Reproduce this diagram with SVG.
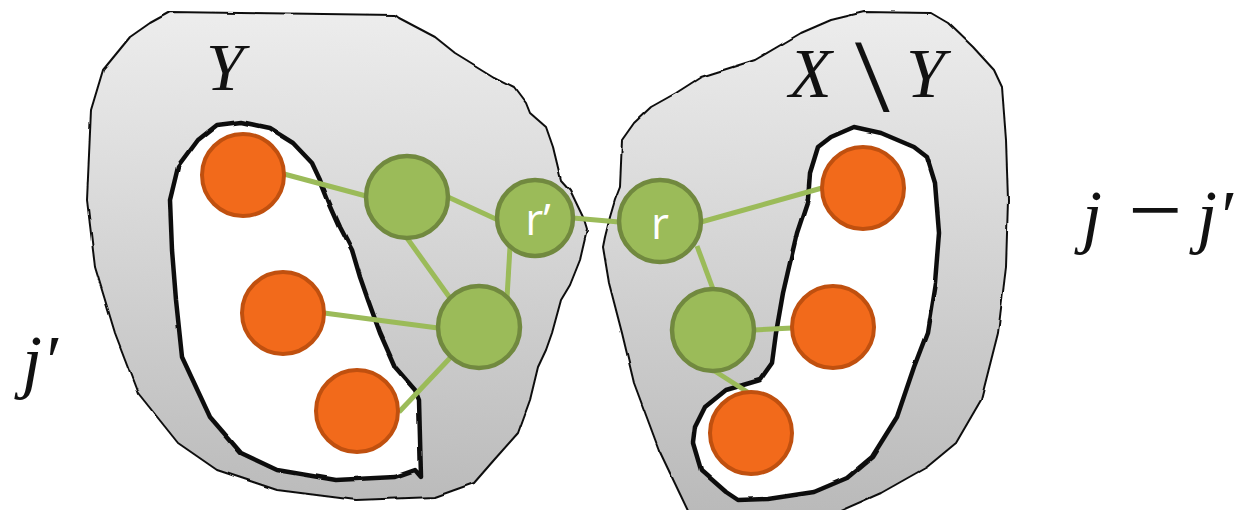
<svg xmlns="http://www.w3.org/2000/svg" width="1235" height="510" viewBox="0 0 1235 510">
  <defs>
    <linearGradient id="blobFill" x1="0" y1="0" x2="0" y2="510" gradientUnits="userSpaceOnUse">
      <stop offset="0" stop-color="#eeeeee"/>
      <stop offset="1" stop-color="#bababa"/>
    </linearGradient>
    <!-- slight hand-drawn wobble on the set outlines -->
    <filter id="rough" x="-5%" y="-5%" width="110%" height="110%">
      <feTurbulence type="fractalNoise" baseFrequency="0.035" numOctaves="2" seed="4" result="n"/>
      <feDisplacementMap in="SourceGraphic" in2="n" scale="2.5" xChannelSelector="R" yChannelSelector="G"/>
    </filter>
    <style>
      .blob { fill: url(#blobFill); stroke: #111; stroke-width: 2; stroke-linejoin: round; }
      .hole { fill: #fff; stroke: #111; stroke-width: 4.5; stroke-linejoin: round; }
      .edge { stroke: #9bbb59; stroke-width: 5; fill: none; }
      .leaf { fill: #f26a1b; stroke: #c0500f; stroke-width: 4; }
      .inner { fill: #9bbb59; stroke: #71893f; stroke-width: 4.5; }
      .math { font-family: "Liberation Serif", "DejaVu Serif", serif; font-style: italic; fill: #111; }
      .tag { font-family: "Open Sans", "Liberation Sans", sans-serif; fill: #fff; text-anchor: middle; }
    </style>
  </defs>

  <!-- set Y -->
  <g id="setY" filter="url(#rough)">
    <path class="blob" d="M170,12 L395,15 L399,18 L435,37 L455,53 L494,77 L514,87 L526,103 L530,113 L546,127 L553,147 L561,180 L570,190 L583,217 L587,230 L583,247 L580,260 L570,285 L561,300 L552,333 L546,350 L538,367 L530,400 L518,433 L494,460 L474,483 L435,497 L356,500 L277,490 L217,470 L178,443 L138,393 L115,333 L95,267 L87,200 L91,110 L103,70 L130,37 L150,23 Z"/>
    <path class="hole" d="M241,122 L269,128 L293,143 L312,163 L320,180 L328,200 L340,227 L352,250 L360,277 L368,300 L380,333 L395,367 L415,390 L419,400 L421,477 L415,470 L395,477 L336,480 L277,470 L241,453 L210,417 L182,357 L176,300 L172,250 L170,200 L178,167 L198,140 L217,125 Z"/>
  </g>

  <!-- set X \ Y -->
  <g id="setXminusY" filter="url(#rough)">
    <path class="blob" d="M864,12 L931,13 L948,23 L973,47 L994,70 L1002,87 L1006,140 L1008,200 L1006,267 L998,333 L981,400 L956,443 L927,467 L881,493 L831,515 L690,515 L659,450 L634,383 L622,333 L609,283 L603,247 L605,237 L610,217 L615,200 L620,187 L622,140 L634,123 L651,107 L676,93 L701,77 L755,60 L801,33 L831,20 Z"/>
    <path class="hole" d="M854,127 L881,133 L914,147 L927,157 L935,183 L939,233 L935,283 L927,333 L914,367 L897,417 L872,457 L847,478 L814,492 L768,499 L738,500 L726,492 L701,470 L693,443 L695,427 L705,407 L726,390 L760,380 L772,363 L776,333 L783,293 L789,267 L797,233 L808,200 L810,173 L818,147 L831,137 Z"/>
  </g>

  <!-- connectors -->
  <g id="connectors">
    <line class="edge" x1="284" y1="174" x2="366" y2="196"/>
    <line class="edge" x1="448" y1="197" x2="498" y2="220"/>
    <line class="edge" x1="407" y1="238" x2="450" y2="298"/>
    <line class="edge" x1="510" y1="247" x2="507" y2="298"/>
    <line class="edge" x1="324" y1="313" x2="438" y2="328"/>
    <line class="edge" x1="450" y1="358" x2="399" y2="412"/>
    <line class="edge" x1="573" y1="218" x2="619" y2="222"/>
    <line class="edge" x1="701" y1="222" x2="822" y2="188"/>
    <line class="edge" x1="697" y1="246" x2="713" y2="289"/>
    <line class="edge" x1="754" y1="330" x2="792" y2="328"/>
    <line class="edge" x1="713" y1="370" x2="749" y2="393"/>
  </g>

  <!-- leaves in Y -->
  <g id="leafY1"><circle class="leaf" cx="243" cy="175" r="41"/></g>
  <g id="leafY2"><circle class="leaf" cx="283" cy="313" r="41"/></g>
  <g id="leafY3"><circle class="leaf" cx="357" cy="411" r="41"/></g>

  <!-- leaves in X \ Y -->
  <g id="leafX1"><circle class="leaf" cx="863" cy="188" r="41"/></g>
  <g id="leafX2"><circle class="leaf" cx="833" cy="327" r="41"/></g>
  <g id="leafX3"><circle class="leaf" cx="751" cy="433" r="41"/></g>

  <!-- inner nodes -->
  <g id="innerY1"><circle class="inner" cx="407" cy="197" r="41"/></g>
  <g id="innerY2"><circle class="inner" cx="479" cy="327" r="41"/></g>
  <g id="rootPrime">
    <circle class="inner" cx="535" cy="218" r="38"/>
    <text class="tag" x="538" y="235" font-size="44">r’</text>
  </g>
  <g id="root">
    <circle class="inner" cx="660" cy="221" r="41"/>
    <text class="tag" x="660" y="239" font-size="44">r</text>
  </g>
  <g id="innerX1"><circle class="inner" cx="713" cy="330" r="41"/></g>

  <!-- labels -->
  <text class="math" x="206" y="90" font-size="68">Y</text>
  <text class="math" x="789" y="97" font-size="70">X</text>
  <text transform="translate(855,111) scale(1.45,1.2)" x="0" y="0" font-size="86" font-family="Liberation Serif, DejaVu Serif, serif" fill="#111">\</text>
  <text class="math" x="906" y="97" font-size="70">Y</text>
  <text class="math" y="240" font-size="72"><tspan x="1082">j</tspan><tspan x="1128" y="242" font-size="96" font-style="normal">−</tspan><tspan x="1197" y="240">j′</tspan></text>
  <text class="math" x="22" y="385" font-size="72">j′</text>
</svg>
